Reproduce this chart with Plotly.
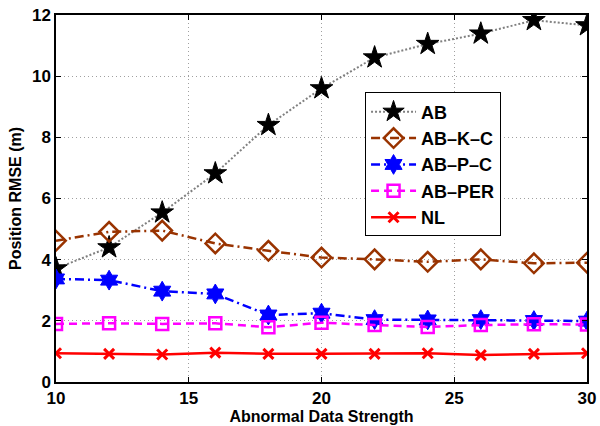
import plotly.graph_objects as go

x_vals = [10, 12, 14, 16, 18, 20, 22, 24, 26, 28, 30]
ab = [3.71, 4.40, 5.54, 6.82, 8.40, 9.60, 10.61, 11.05, 11.39, 11.83, 11.66]
ab_k_c = [4.62, 4.91, 4.95, 4.53, 4.29, 4.07, 4.01, 3.93, 4.01, 3.88, 3.90]
ab_p_c = [3.37, 3.33, 2.97, 2.88, 2.19, 2.25, 2.04, 2.03, 2.04, 2.01, 1.99]
ab_per = [1.90, 1.92, 1.90, 1.92, 1.79, 1.94, 1.86, 1.80, 1.86, 1.89, 1.88]
nl = [0.94, 0.92, 0.90, 0.96, 0.92, 0.92, 0.92, 0.94, 0.88, 0.92, 0.94]

x_ticks = [10, 15, 20, 25, 30]
y_ticks = [0, 2, 4, 6, 8, 10, 12]

fig = go.Figure()
fig.add_trace(go.Scatter(x=x_vals, y=ab, name="AB", mode="lines+markers",
                         line=dict(color="#808080", width=2, dash="2px,2px"),
                         marker=dict(symbol="star", size=17, color="black",
                                     line=dict(color="black", width=1))))
fig.add_trace(go.Scatter(x=x_vals, y=ab_k_c, name="AB\u2013K\u2013C", mode="lines+markers",
                         line=dict(color="#993300", width=2.5, dash="9px,4px,2px,4px"),
                         marker=dict(symbol="diamond-open", size=15, color="#993300",
                                     line=dict(color="#993300", width=2.5))))
fig.add_trace(go.Scatter(x=x_vals, y=ab_p_c, name="AB\u2013P\u2013C", mode="lines+markers",
                         line=dict(color="#0000FF", width=2.5, dash="9px,4px,2px,4px"),
                         marker=dict(symbol="hexagram", size=15, color="#0000FF",
                                     line=dict(color="#0000FF", width=1))))
fig.add_trace(go.Scatter(x=x_vals, y=ab_per, name="AB\u2013PER", mode="lines+markers",
                         line=dict(color="#FF00FF", width=2.5, dash="8px,5px"),
                         marker=dict(symbol="square-open", size=12, color="#FF00FF",
                                     line=dict(color="#FF00FF", width=2.5))))
fig.add_trace(go.Scatter(x=x_vals, y=nl, name="NL", mode="lines+markers",
                         line=dict(color="#FF0000", width=2.5),
                         marker=dict(symbol="x-thin", size=10, color="#FF0000",
                                     line=dict(color="#FF0000", width=3))))

font_family = "Liberation Sans"
axis_common = dict(
    showline=True, linecolor="black", linewidth=1.5, mirror="ticks",
    ticks="inside", ticklen=5, tickcolor="black",
    showgrid=True, gridcolor="#a0a0a0", griddash="1px,3px", gridwidth=1,
    zeroline=False, automargin=False,
    tickfont=dict(family=font_family, size=17, color="black", weight=700),
)

fig.update_layout(
    width=600, height=426,
    margin=dict(l=56, r=13, t=15, b=44),
    paper_bgcolor="white", plot_bgcolor="white",
    font=dict(family=font_family, color="black"),
    xaxis=dict(range=[10, 30], tickvals=x_ticks,
               title=dict(text="Abnormal Data Strength", standoff=0,
                          font=dict(family=font_family, size=16, color="black", weight=700)),
               **axis_common),
    yaxis=dict(range=[0, 12], tickvals=y_ticks,
               title=dict(text="Position RMSE (m)", standoff=6,
                          font=dict(family=font_family, size=16, color="black", weight=700)),
               **axis_common),
    legend=dict(x=0.582, y=0.789, xanchor="left", yanchor="top",
                bgcolor="white", bordercolor="black", borderwidth=1,
                font=dict(family=font_family, size=18, color="black", weight=700),
                itemwidth=45, tracegroupgap=0),
    showlegend=True,
)

fig.write_html("out.html", config={"displayModeBar": False})

with open("out.html", "r", encoding="utf-8") as f:
    html = f.read()
html = html.replace("<body>", '<body style="margin:0;padding:0">', 1)
with open("out.html", "w", encoding="utf-8") as f:
    f.write(html)
